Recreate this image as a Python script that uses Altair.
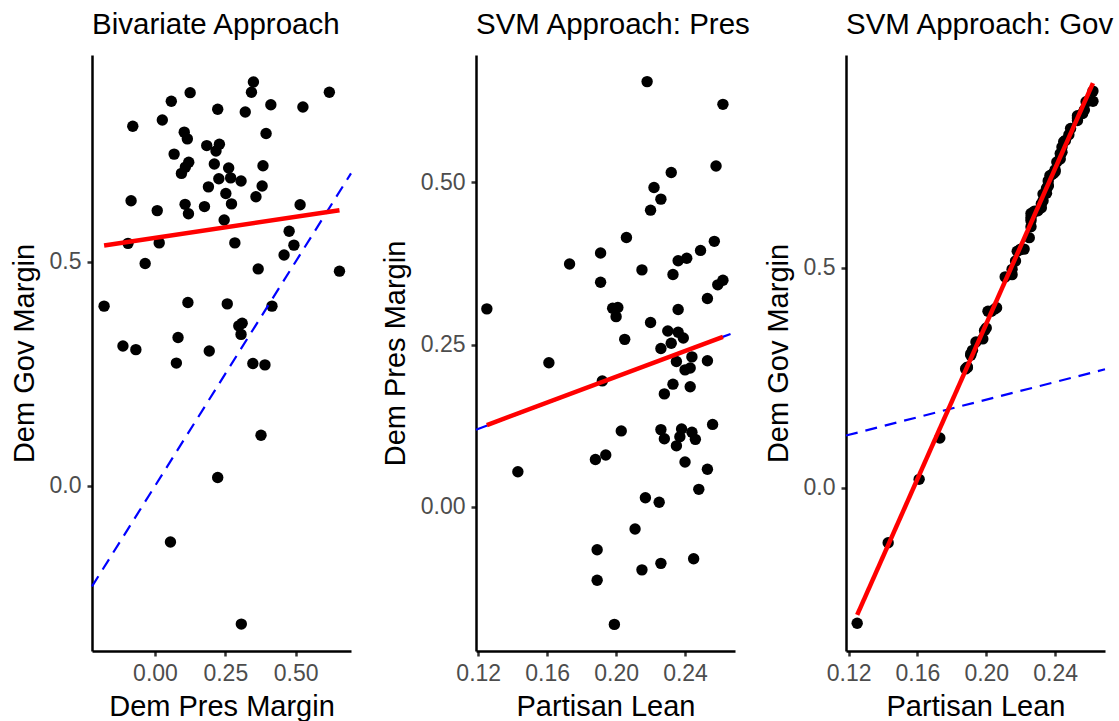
import altair as alt
import pandas as pd

FONT = "Liberation Sans"

# Bivariate approach: Dem presidential margin (x) vs Dem governor margin (y)
biv_pres = [0.350, 0.343, 0.125, 0.620, 0.058, 0.412, 0.223, 0.321, 0.526, 0.026,
            -0.079, 0.104, 0.115, 0.395, 0.184, 0.229, 0.217, 0.068, 0.120, 0.108,
            0.094, 0.211, 0.262, 0.384, 0.227, 0.269, 0.306, 0.190, 0.381, 0.252,
            0.359, -0.085, 0.272, 0.107, 0.516, 0.008, 0.119, 0.176, 0.246, 0.477,
            -0.096, 0.015, 0.284, 0.494, 0.459, -0.035, 0.367, 0.656, -0.181, 0.117,
            0.257, 0.416, -0.114, -0.068, 0.082, 0.193, 0.298, 0.310, 0.306, 0.076,
            0.348, 0.391, 0.377, 0.223, 0.055, 0.307]
biv_gov = [0.901, 0.878, 0.877, 0.878, 0.858, 0.850, 0.840, 0.834, 0.845, 0.816,
           0.802, 0.789, 0.774, 0.786, 0.759, 0.762, 0.747, 0.740, 0.722, 0.711,
           0.697, 0.718, 0.709, 0.714, 0.685, 0.687, 0.680, 0.667, 0.669, 0.652,
           0.645, 0.636, 0.629, 0.628, 0.627, 0.614, 0.607, 0.623, 0.593, 0.568,
           0.541, 0.542, 0.542, 0.537, 0.515, 0.496, 0.484, 0.479, 0.401, 0.409,
           0.406, 0.401, 0.312, 0.304, 0.331, 0.301, 0.357, 0.363, 0.338, 0.274,
           0.273, 0.270, 0.113, 0.019, -0.125, -0.308]

# SVM approach (presidential): partisan lean (x) vs Dem presidential margin (y)
svm_lean = [0.218, 0.262, 0.232, 0.258, 0.222, 0.226, 0.220, 0.206, 0.191, 0.257,
            0.249, 0.241, 0.236, 0.173, 0.215, 0.233, 0.191, 0.262, 0.259, 0.253,
            0.125, 0.198, 0.201, 0.200, 0.236, 0.220, 0.205, 0.230, 0.236, 0.239,
            0.232, 0.226, 0.244, 0.235, 0.253, 0.161, 0.240, 0.243, 0.192, 0.233,
            0.243, 0.228, 0.203, 0.226, 0.228, 0.238, 0.237, 0.244, 0.246, 0.256,
            0.235, 0.194, 0.188, 0.240, 0.143, 0.253, 0.248, 0.217, 0.225, 0.211,
            0.189, 0.245, 0.226, 0.215, 0.189, 0.199]
svm_pres = [0.655, 0.620, 0.515, 0.525, 0.492, 0.474, 0.457, 0.415, 0.391, 0.409,
            0.395, 0.383, 0.379, 0.374, 0.365, 0.358, 0.346, 0.349, 0.342, 0.321,
            0.305, 0.306, 0.307, 0.293, 0.304, 0.284, 0.258, 0.271, 0.269, 0.260,
            0.252, 0.244, 0.231, 0.224, 0.225, 0.222, 0.211, 0.214, 0.194, 0.189,
            0.185, 0.174, 0.117, 0.119, 0.105, 0.120, 0.108, 0.115, 0.104, 0.127,
            0.094, 0.080, 0.073, 0.069, 0.054, 0.058, 0.027, 0.014, 0.007, -0.034,
            -0.066, -0.080, -0.087, -0.097, -0.113, -0.181]

# SVM approach (governor): partisan lean (x) vs Dem governor margin (y)
gov_lean = [0.125, 0.143, 0.161, 0.173, 0.188, 0.189, 0.189, 0.191, 0.191, 0.192,
            0.194, 0.198, 0.199, 0.200, 0.201, 0.203, 0.205, 0.206, 0.211, 0.215,
            0.215, 0.217, 0.218, 0.220, 0.220, 0.222, 0.225, 0.226, 0.226, 0.226,
            0.226, 0.228, 0.228, 0.230, 0.232, 0.232, 0.233, 0.233, 0.235, 0.235,
            0.236, 0.236, 0.236, 0.237, 0.238, 0.239, 0.240, 0.240, 0.241, 0.243,
            0.243, 0.244, 0.244, 0.245, 0.246, 0.248, 0.249, 0.253, 0.253, 0.253,
            0.256, 0.257, 0.258, 0.259, 0.262, 0.262]
gov_margin = [-0.308, -0.125, 0.019, 0.113, 0.270, 0.273, 0.274, 0.301, 0.304, 0.312,
              0.331, 0.338, 0.357, 0.363, 0.401, 0.401, 0.406, 0.409, 0.479, 0.484,
              0.496, 0.515, 0.537, 0.541, 0.542, 0.542, 0.568, 0.593, 0.607, 0.614,
              0.623, 0.627, 0.628, 0.629, 0.636, 0.645, 0.652, 0.667, 0.669, 0.680,
              0.685, 0.687, 0.697, 0.709, 0.711, 0.714, 0.718, 0.722, 0.740, 0.747,
              0.759, 0.762, 0.774, 0.786, 0.789, 0.802, 0.816, 0.834, 0.840, 0.845,
              0.850, 0.858, 0.877, 0.878, 0.878, 0.901]

# Linear fit endpoints (red lines)
fit_biv_x, fit_biv_y = [-0.181, 0.656], [0.536, 0.615]
fit_pres_x, fit_pres_y = [0.125, 0.262], [0.126, 0.262]
fit_gov_x, fit_gov_y = [0.125, 0.262], [-0.289, 0.919]

PANEL_W, PANEL_H = 259, 596


def panel(title, xs, ys, fx, fy, xdom, ydom, xticks, yticks, xfmt, yfmt, xtitle, ytitle):
    pts = pd.DataFrame({"x": xs, "y": ys})
    fit = pd.DataFrame({"x": fx, "y": fy})
    # 45-degree reference line (y = x) across the full x range
    ref = pd.DataFrame({"x": xdom, "y": xdom})

    xscale = alt.Scale(domain=xdom, nice=False, zero=False)
    yscale = alt.Scale(domain=ydom, nice=False, zero=False)
    xenc = alt.X("x:Q", scale=xscale,
                 axis=alt.Axis(values=xticks, format=xfmt, title=xtitle))
    yenc = alt.Y("y:Q", scale=yscale,
                 axis=alt.Axis(values=yticks, format=yfmt, title=ytitle))

    points = alt.Chart(pts).mark_circle(size=130, color="black", opacity=1).encode(x=xenc, y=yenc)
    diag = alt.Chart(ref).mark_line(color="#0000FF", strokeWidth=2.2,
                                    strokeDash=[12, 8]).encode(x="x:Q", y="y:Q")
    line = alt.Chart(fit).mark_line(color="#FF0000", strokeWidth=4.5).encode(x="x:Q", y="y:Q")
    return alt.layer(points, diag, line).properties(
        width=PANEL_W, height=PANEL_H, title=title)


p1 = panel("Bivariate Approach", biv_pres, biv_gov, fit_biv_x, fit_biv_y,
           [-0.224, 0.697], [-0.368, 0.961], [0, 0.25, 0.5], [0, 0.5],
           ".2f", ".1f", "Dem Pres Margin", "Dem Gov Margin")
p2 = panel("SVM Approach: Pres", svm_lean, svm_pres, fit_pres_x, fit_pres_y,
           [0.1187, 0.269], [-0.222, 0.696], [0.12, 0.16, 0.20, 0.24], [0, 0.25, 0.5],
           ".2f", ".2f", "Partisan Lean", "Dem Pres Margin")
p3 = panel("SVM Approach: Gov", gov_lean, gov_margin, fit_gov_x, fit_gov_y,
           [0.1185, 0.269], [-0.371, 0.983], [0.12, 0.16, 0.20, 0.24], [0, 0.5],
           ".2f", ".1f", "Partisan Lean", "Dem Gov Margin")

right_pair = alt.hconcat(p2, p3, spacing=111, bounds="flush")
chart = alt.hconcat(p1, right_pair, spacing=125, bounds="flush").properties(
    padding={"left": 10, "top": 9, "right": 2, "bottom": 2}
).configure_view(stroke=None).configure_axis(
    grid=False,
    domainColor="black", domainWidth=2.5,
    tickColor="#333333", tickWidth=2.5, tickSize=5,
    labelFont=FONT, labelFontSize=23, labelColor="#4D4D4D", labelPadding=6,
    titleFont=FONT, titleFontSize=29, titleFontWeight="normal", titleColor="black",
).configure_axisX(titlePadding=7).configure_axisY(titlePadding=10).configure_title(
    font=FONT, fontSize=29.5, fontWeight="normal", color="black",
    anchor="start", frame="group", offset=15,
)

chart.save("out.html", embed_options={"renderer": "svg", "actions": False})
